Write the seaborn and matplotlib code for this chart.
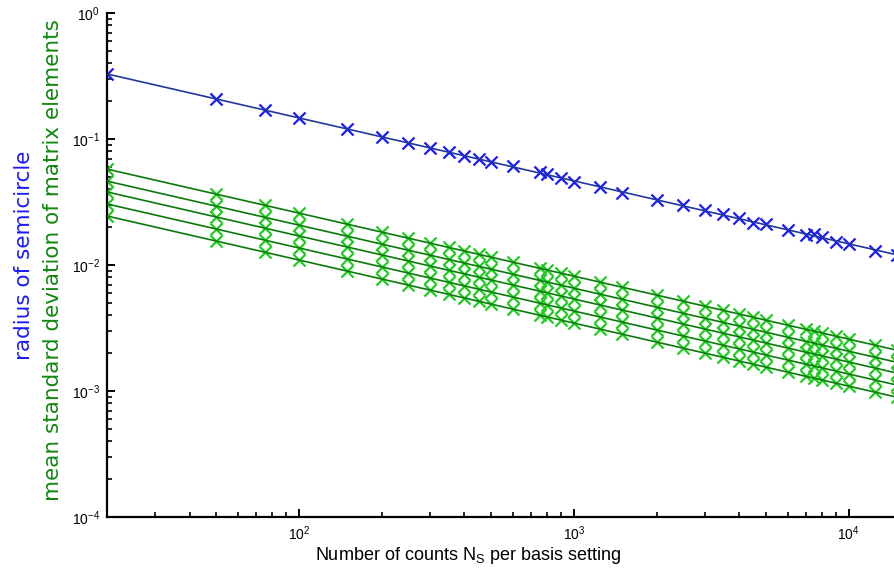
import numpy as np
import pandas as pd
import matplotlib
matplotlib.use("Agg")
import matplotlib.pyplot as plt
import seaborn as sns
from matplotlib.ticker import LogLocator, NullFormatter

# Number of counts per basis setting
counts = [20, 50, 75, 100, 150, 200, 250, 300, 350, 400, 450, 500, 600, 750, 800,
          900, 1000, 1250, 1500, 2000, 2500, 3000, 3500, 4000, 4500, 5000, 6000,
          7000, 7500, 8000, 9000, 10000, 12500, 15000]

# Radius of the semicircle
radius = [0.328, 0.207, 0.169, 0.147, 0.120, 0.104, 0.0928, 0.0847, 0.0784, 0.0733,
          0.0691, 0.0656, 0.0611, 0.0550, 0.0528, 0.0488, 0.0456, 0.0418, 0.0373,
          0.0328, 0.0297, 0.0271, 0.0252, 0.0234, 0.0215, 0.0210, 0.0191, 0.0173,
          0.0176, 0.0167, 0.0152, 0.0148, 0.0130, 0.0119]

# Mean standard deviation of matrix elements, five cases
std_1 = [0.0577, 0.0365, 0.0298, 0.0258, 0.0211, 0.0182, 0.0163, 0.0149, 0.0138, 0.0129,
         0.0122, 0.0115, 0.01053, 0.00942, 0.00912, 0.00860, 0.00816, 0.00730, 0.00666,
         0.00577, 0.00516, 0.00471, 0.00436, 0.00408, 0.00385, 0.00365, 0.00333,
         0.00308, 0.00298, 0.00288, 0.00272, 0.00258, 0.00231, 0.00211]
std_2 = [0.0463, 0.0293, 0.0239, 0.0207, 0.0169, 0.0146, 0.0131, 0.0120, 0.0111, 0.01035,
         0.00976, 0.00926, 0.00845, 0.00756, 0.00732, 0.00690, 0.00655, 0.00585, 0.00534,
         0.00463, 0.00414, 0.00378, 0.00350, 0.00327, 0.00309, 0.00293, 0.00267,
         0.00247, 0.00239, 0.00231, 0.00218, 0.00207, 0.00185, 0.00169]
std_3 = [0.0380, 0.0240, 0.0196, 0.0170, 0.0139, 0.0120, 0.01075, 0.00981, 0.00909, 0.00850,
         0.00801, 0.00760, 0.00694, 0.00621, 0.00601, 0.00567, 0.00538, 0.00481, 0.00439,
         0.00380, 0.00340, 0.00310, 0.00287, 0.00269, 0.00253, 0.00240, 0.00219,
         0.00203, 0.00196, 0.00190, 0.00179, 0.00170, 0.00152, 0.00139]
std_4 = [0.0305, 0.0193, 0.0158, 0.01364, 0.01114, 0.00965, 0.00863, 0.00787, 0.00729, 0.00682,
         0.00643, 0.00610, 0.00557, 0.00498, 0.00482, 0.00455, 0.00431, 0.00386, 0.00352,
         0.00305, 0.00273, 0.00249, 0.00231, 0.00216, 0.00203, 0.00193, 0.00176,
         0.00163, 0.00158, 0.00153, 0.00144, 0.001364, 0.00122, 0.00111]
std_5 = [0.0245, 0.0155, 0.0126, 0.01094, 0.00893, 0.00774, 0.00692, 0.00632, 0.00585, 0.00547,
         0.00516, 0.00489, 0.00447, 0.00399, 0.00387, 0.00365, 0.00346, 0.00309, 0.00282,
         0.00245, 0.00219, 0.00200, 0.00185, 0.00173, 0.00163, 0.00155, 0.00141,
         0.00131, 0.00126, 0.00122, 0.00115, 0.00109, 0.000979, 0.000893]

sns.set_theme(style="white")
plt.rcParams["font.family"] = ["Liberation Sans", "DejaVu Sans"]
plt.rcParams["mathtext.fontset"] = "custom"
plt.rcParams["mathtext.rm"] = "Liberation Sans"
plt.rcParams["mathtext.it"] = "Liberation Sans:italic"

fig = plt.figure(figsize=(8.95, 5.72), dpi=100)
ax = fig.add_axes([107 / 895, 1 - 517 / 572, 1 - 107 / 895 + 0.004, 504 / 572])

BLUE_LINE, BLUE_MARK = "#22389a", "#1a1aff"
GREEN_LINE, GREEN_MARK = "#0a7a0a", "#22cc22"


def draw_series(values, line_color, mark_color):
    df = pd.DataFrame({"N": counts, "v": values})
    # power-law fit in log-log space
    slope, icpt = np.polyfit(np.log10(df["N"]), np.log10(df["v"]), 1)
    df["fit"] = 10 ** (icpt + slope * np.log10(df["N"]))
    sns.scatterplot(data=df, x="N", y="v", marker="x", s=75, linewidth=1.6,
                    color=mark_color, ax=ax, zorder=2, legend=False)
    sns.lineplot(data=df, x="N", y="fit", color=line_color, linewidth=1.2,
                 ax=ax, zorder=3, legend=False)


draw_series(radius, BLUE_LINE, BLUE_MARK)
for s in (std_1, std_2, std_3, std_4, std_5):
    draw_series(s, GREEN_LINE, GREEN_MARK)

ax.set_xscale("log")
ax.set_yscale("log")
ax.set_xlim(20, 15200)
ax.set_ylim(1e-4, 1)

ax.xaxis.set_major_locator(LogLocator(base=10, numticks=10))
ax.xaxis.set_minor_locator(LogLocator(base=10, subs=np.arange(2, 10), numticks=10))
ax.yaxis.set_major_locator(LogLocator(base=10, numticks=10))
ax.yaxis.set_minor_locator(LogLocator(base=10, subs=np.arange(2, 10), numticks=10))
ax.xaxis.set_minor_formatter(NullFormatter())
ax.yaxis.set_minor_formatter(NullFormatter())

for side in ("top", "right"):
    ax.spines[side].set_visible(False)
for side in ("left", "bottom"):
    ax.spines[side].set_color("black")
    ax.spines[side].set_linewidth(1.6)

ax.tick_params(which="major", direction="in", length=6, width=1.4, colors="black",
               labelsize=10, left=True, bottom=True, pad=5)
ax.tick_params(which="minor", direction="in", length=3.5, width=1.2, colors="black",
               left=True, bottom=True)
ax.grid(False)

ax.set_xlabel(r"Number of counts N$_\mathrm{S}$ per basis setting", fontsize=13,
              color="black")
ax.xaxis.set_label_coords((466 - 107) / (895 - 107), -0.055)
ax.set_ylabel("")

fig.text(24 / 895, 1 - 255 / 572, "radius of semicircle", rotation=90,
         color="#1a1aff", fontsize=15.5, family="DejaVu Sans", ha="center", va="center")
fig.text(53 / 895, 1 - 260 / 572, "mean standard deviation of matrix elements",
         rotation=90, color="#118811", fontsize=15.5, family="DejaVu Sans",
         ha="center", va="center")

fig.savefig("out.png", dpi=100, facecolor="white")
